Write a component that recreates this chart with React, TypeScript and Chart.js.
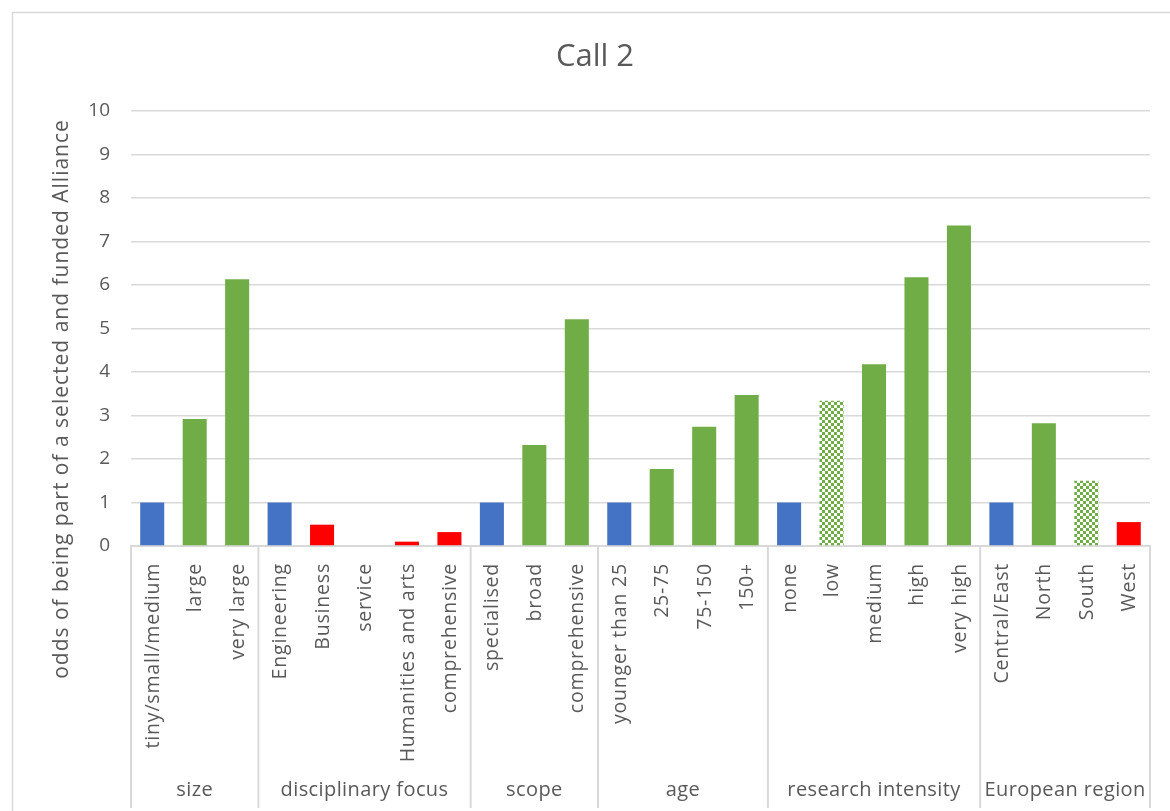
import React, { useEffect, useRef } from "react";
import { Chart, registerables } from "chart.js";

Chart.register(...registerables);

const chartTitle = "Call 2";
const yAxisTitle = "odds of being part of a selected and funded Alliance";

const categories = [
  "tiny/small/medium", "large", "very large",
  "Engineering", "Business", "service", "Humanities and arts", "comprehensive",
  "specialised", "broad", "comprehensive",
  "younger than 25", "25-75", "75-150", "150+",
  "none", "low", "medium", "high", "very high",
  "Central/East", "North", "South", "West",
];

const groupNames = ["size", "disciplinary focus", "scope", "age", "research intensity", "European region"];
const groupSizes = [3, 5, 3, 4, 5, 4];

const oddsValues = [
  1, 2.92, 6.13,
  1, 0.49, 0, 0.1, 0.32,
  1, 2.32, 5.21,
  1, 1.77, 2.74, 3.47,
  1, 3.34, 4.18, 6.18, 7.37,
  1, 2.82, 1.5, 0.55,
];

// ref = reference category, sig = significant higher, ns = not significant, neg = lower
const barKinds = [
  "ref", "sig", "sig",
  "ref", "neg", "neg", "neg", "neg",
  "ref", "sig", "sig",
  "ref", "sig", "sig", "sig",
  "ref", "ns", "sig", "sig", "sig",
  "ref", "sig", "ns", "neg",
];

const yMin = 0;
const yMax = 10;
const yStep = 1;

const FONT = "'Open Sans', 'DejaVu Sans', sans-serif";
const TEXT = "#595959";
const LINE = "#d9d9d9";

function makeChecker(): CanvasPattern | string {
  const c = document.createElement("canvas");
  c.width = 6;
  c.height = 6;
  const g = c.getContext("2d");
  if (!g) return "#70AD47";
  g.fillStyle = "#ffffff";
  g.fillRect(0, 0, 6, 6);
  g.fillStyle = "#70AD47";
  g.fillRect(0, 0, 3, 3);
  g.fillRect(3, 3, 3, 3);
  const p = g.createPattern(c, "repeat");
  return p || "#70AD47";
}

export default function App() {
  const ref = useRef<HTMLCanvasElement | null>(null);

  useEffect(() => {
    const canvas = ref.current;
    if (!canvas) return;
    const checker = makeChecker();
    const colorFor = (k: string) =>
      k === "ref" ? "#4472C4" : k === "sig" ? "#70AD47" : k === "neg" ? "#FF0000" : checker;

    const setSpacing = (ctx: any, v: string) => {
      if ("letterSpacing" in ctx) ctx.letterSpacing = v;
    };

    const decor = {
      id: "decor",
      afterDraw(chart: any) {
        const ctx = chart.ctx as CanvasRenderingContext2D;
        const area = chart.chartArea;
        const xs = chart.scales.x;
        ctx.save();
        // frame
        ctx.strokeStyle = LINE;
        ctx.lineWidth = 1.5;
        ctx.strokeRect(12.5, 12.5, 1180, 820);
        // title
        ctx.fillStyle = TEXT;
        ctx.font = `31px ${FONT}`;
        ctx.textAlign = "center";
        ctx.textBaseline = "middle";
        setSpacing(ctx, "0px");
        ctx.fillText(chartTitle, 595, 57);
        // y title
        ctx.save();
        ctx.translate(62, 399);
        ctx.rotate(-Math.PI / 2);
        ctx.font = `21px ${FONT}`;
        setSpacing(ctx, "1px");
        ctx.fillText(yAxisTitle, 0, 0);
        ctx.restore();
        // category labels
        ctx.font = `19.5px ${FONT}`;
        setSpacing(ctx, "0.8px");
        categories.forEach((lab, i) => {
          const x = xs.getPixelForValue(i);
          ctx.save();
          ctx.translate(x + 1, area.bottom + 17);
          ctx.rotate(-Math.PI / 2);
          ctx.textAlign = "right";
          ctx.textBaseline = "middle";
          ctx.fillText(lab, 0, 0);
          ctx.restore();
        });
        // group separators & labels
        const bounds: number[] = [];
        let idx = 0;
        bounds.push(area.left);
        groupSizes.forEach((n) => {
          idx += n;
          if (idx >= categories.length) bounds.push(area.right);
          else bounds.push((xs.getPixelForValue(idx - 1) + xs.getPixelForValue(idx)) / 2);
        });
        ctx.strokeStyle = LINE;
        ctx.lineWidth = 2;
        bounds.forEach((bx) => {
          ctx.beginPath();
          ctx.moveTo(bx, area.bottom);
          ctx.lineTo(bx, 808);
          ctx.stroke();
        });
        ctx.font = `20px ${FONT}`;
        setSpacing(ctx, "0.4px");
        ctx.textAlign = "center";
        ctx.textBaseline = "middle";
        groupNames.forEach((g, i) => {
          ctx.fillText(g, (bounds[i] + bounds[i + 1]) / 2, 790);
        });
        setSpacing(ctx, "0px");
        ctx.restore();
      },
    };

    const chart = new Chart(canvas, {
      type: "bar",
      data: {
        labels: categories,
        datasets: [
          {
            data: oddsValues,
            backgroundColor: barKinds.map(colorFor) as any,
            borderWidth: 0,
            barPercentage: 0.566,
            categoryPercentage: 1,
          },
        ],
      },
      options: {
        responsive: false,
        animation: false,
        devicePixelRatio: 1,
        layout: { padding: { top: 111, right: 20, left: 0, bottom: 0 } },
        plugins: { legend: { display: false }, tooltip: { enabled: false }, title: { display: false } },
        scales: {
          x: {
            ticks: { display: false },
            grid: { display: false, drawTicks: false },
            border: { display: true, color: LINE, width: 2 },
            afterFit: (s: any) => {
              s.height = 265;
            },
          },
          y: {
            min: yMin,
            max: yMax,
            ticks: { stepSize: yStep, color: TEXT, font: { size: 19, family: FONT }, padding: 21 },
            grid: { color: LINE, lineWidth: 1.5, drawTicks: false },
            border: { display: false },
            afterFit: (s: any) => {
              s.width = 131;
            },
          },
        },
      },
      plugins: [decor],
    });
    return () => chart.destroy();
  }, []);

  return (
    <div style={{ position: "fixed", left: 0, top: 0, width: 1170, height: 811, background: "#fff" }}>
      <canvas ref={ref} width={1170} height={811} style={{ display: "block" }} />
    </div>
  );
}
